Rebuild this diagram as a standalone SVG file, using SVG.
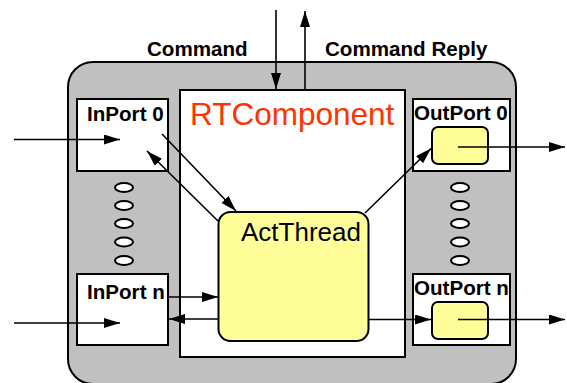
<svg xmlns="http://www.w3.org/2000/svg" width="567" height="383" viewBox="0 0 567 383">
  <style>
    .frame { fill: #c0c0c0; stroke: #000; stroke-width: 2; }
    .box { fill: #fff; stroke: #000; stroke-width: 2; }
    .yel { fill: #ffff99; stroke: #000; stroke-width: 2; }
    .dot { fill: #fff; stroke: #000; stroke-width: 2; }
    .lbl { font-family: "Liberation Sans", Arial, sans-serif; font-weight: bold; font-size: 20.6px; fill: #000; }
    .big { font-family: "Liberation Sans", Arial, sans-serif; font-size: 31.5px; fill: #ff3300; }
    .act { font-family: "Liberation Sans", Arial, sans-serif; font-size: 26px; fill: #000; }
    .wire { fill: none; stroke: #000; stroke-width: 1.6; marker-end: url(#head); }
  </style>
  <defs>
    <marker id="head" viewBox="0 0 16 10" refX="16" refY="5" markerWidth="16" markerHeight="10" markerUnits="userSpaceOnUse" orient="auto">
      <path d="M0,0 L16,5 L0,10 Z" fill="#000"/>
    </marker>
  </defs>

  <!-- outer component frame -->
  <g id="frame">
    <rect class="frame" x="68" y="62" width="448" height="322" rx="25" ry="25"/>
  </g>

  <!-- RTComponent body -->
  <g id="rtcomponent">
    <rect class="box" x="180" y="90" width="225" height="267"/>
    <text class="big" x="190" y="125">RTComponent</text>
  </g>

  <g id="inport0">
    <rect class="box" x="77" y="99" width="91" height="72"/>
    <text class="lbl" x="87" y="121">InPort 0</text>
  </g>

  <g id="inportn">
    <rect class="box" x="77" y="274" width="91" height="71"/>
    <text class="lbl" x="87" y="299">InPort n</text>
  </g>

  <g id="in-dots">
    <ellipse class="dot" cx="124" cy="187.5" rx="9" ry="4.5"/>
    <ellipse class="dot" cx="124" cy="205.5" rx="9" ry="4.5"/>
    <ellipse class="dot" cx="124" cy="223.5" rx="9" ry="4.5"/>
    <ellipse class="dot" cx="124" cy="242" rx="9" ry="4.5"/>
    <ellipse class="dot" cx="124" cy="260.5" rx="9" ry="4.5"/>
  </g>

  <g id="outport0">
    <rect class="box" x="413" y="99" width="97" height="72"/>
    <text class="lbl" x="414" y="120">OutPort 0</text>
    <rect class="yel" x="432" y="127" width="56" height="37" rx="6" ry="6"/>
  </g>

  <g id="outportn">
    <rect class="box" x="413" y="274" width="97" height="71"/>
    <text class="lbl" x="414" y="294.5">OutPort n</text>
    <rect class="yel" x="432" y="302" width="56" height="37" rx="6" ry="6"/>
  </g>

  <g id="out-dots">
    <ellipse class="dot" cx="460" cy="187.5" rx="9" ry="4.5"/>
    <ellipse class="dot" cx="460" cy="205.5" rx="9" ry="4.5"/>
    <ellipse class="dot" cx="460" cy="223.5" rx="9" ry="4.5"/>
    <ellipse class="dot" cx="460" cy="242" rx="9" ry="4.5"/>
    <ellipse class="dot" cx="460" cy="260.5" rx="9" ry="4.5"/>
  </g>

  <g id="actthread">
    <rect class="yel" x="218.5" y="212" width="150" height="129" rx="12" ry="12"/>
    <text class="act" x="241" y="241">ActThread</text>
  </g>

  <g id="labels">
    <text class="lbl" x="147" y="56">Command</text>
    <text class="lbl" x="325" y="56">Command Reply</text>
  </g>

  <!-- connectors -->
  <g id="connectors">
    <line class="wire" x1="276" y1="10" x2="276" y2="89"/>
    <line class="wire" x1="305" y1="89" x2="305" y2="11"/>
    <line class="wire" x1="14" y1="139.5" x2="120" y2="139.5"/>
    <line class="wire" x1="14" y1="323" x2="120" y2="323"/>
    <line class="wire" x1="162" y1="134" x2="236" y2="211"/>
    <line class="wire" x1="218" y1="221" x2="147" y2="151"/>
    <line class="wire" x1="168" y1="297" x2="218" y2="297"/>
    <line class="wire" x1="218" y1="319" x2="169" y2="319"/>
    <line class="wire" x1="365" y1="213" x2="431" y2="148.5"/>
    <line class="wire" x1="368" y1="319.5" x2="431" y2="319.5"/>
    <line class="wire" x1="458" y1="147" x2="565" y2="147"/>
    <line class="wire" x1="458" y1="319.5" x2="565" y2="319.5"/>
  </g>
</svg>
